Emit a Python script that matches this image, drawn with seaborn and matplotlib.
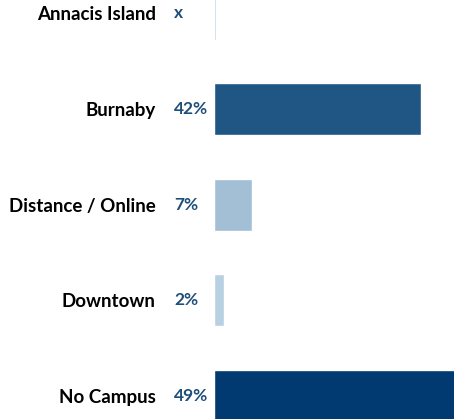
import matplotlib
matplotlib.use("Agg")
import matplotlib.pyplot as plt
import matplotlib.transforms as mtransforms
import seaborn as sns
import pandas as pd

# Chart data
campuses = ['Annacis Island', 'Burnaby', 'Distance / Online', 'Downtown', 'No Campus']
shares = [0.35, 42, 7.7, 2, 49]
share_labels = ['x', '42%', '7%', '2%', '49%']
bar_colors = ['#b8d0e3', '#1f5684', '#a2bfd6', '#b7d0e2', '#003a70']

df = pd.DataFrame({'Campus': campuses, 'Share': shares})

sns.set_theme(style='white')
plt.rcParams['font.family'] = ['Lato', 'DejaVu Sans']

fig = plt.figure(figsize=(4.54, 4.19), dpi=100)
ax = fig.add_axes([214 / 454, 0, 240 / 454, 1])

sns.barplot(data=df, x='Share', y='Campus', hue='Campus', palette=bar_colors,
            orient='h', width=0.545, legend=False, ax=ax, saturation=1)

ax.set_xlim(0, 48.7)
ax.set_ylim(4.24, -0.141)
ax.set_xlabel('')
ax.set_ylabel('')
ax.set_xticks([])
for s in ax.spines.values():
    s.set_visible(False)

ax.tick_params(axis='y', length=0, pad=42)
for lbl in ax.get_yticklabels():
    lbl.set_fontweight('bold')
    lbl.set_fontsize(13.5)
    lbl.set_color('black')

# value labels sit in a column left of the bars, left aligned
offset = mtransforms.offset_copy(ax.transData, fig=fig, x=-40, y=0, units='dots')
for i, txt in enumerate(share_labels):
    ax.text(0, i, txt, transform=offset, ha='left', va='center',
            fontsize=12.5, fontweight='bold', color='#1f4e79')

fig.savefig('out.png', dpi=100)
